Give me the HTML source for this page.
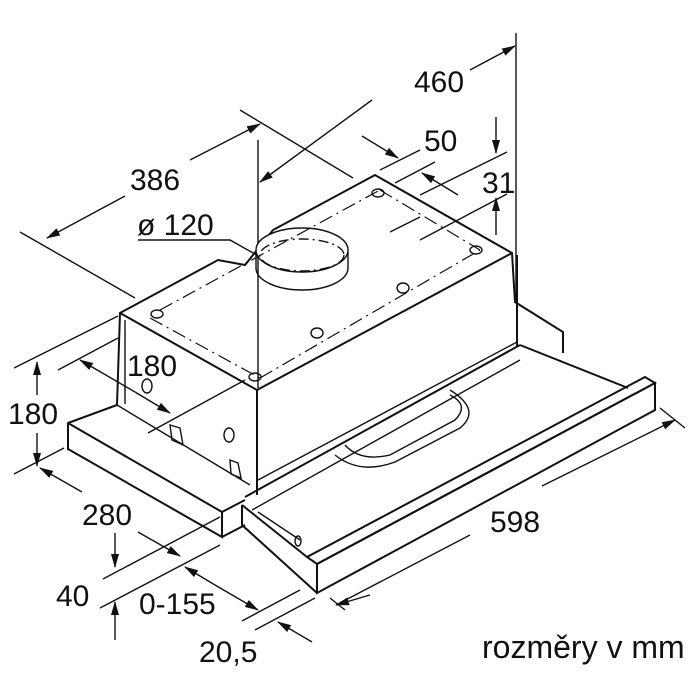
<!DOCTYPE html>
<html><head><meta charset="utf-8"><style>
html,body{margin:0;padding:0;background:#fff;}
svg{display:block;}
text{font-family:"Liberation Sans",Arial,sans-serif;fill:#111;}
</style></head><body>
<svg width="700" height="700" viewBox="0 0 700 700" xmlns="http://www.w3.org/2000/svg">
<defs>
<marker id="a" markerWidth="14" markerHeight="8" refX="13" refY="4" orient="auto" markerUnits="userSpaceOnUse">
<path d="M0,0 L14,4 L0,8 Z" fill="#111"/></marker>
</defs>
<g stroke="#111" fill="none" stroke-width="1.4">
<line x1="516" y1="33" x2="516" y2="300"/>
<line x1="258" y1="140" x2="258" y2="388"/>
<line x1="20" y1="232" x2="135" y2="298"/>
<line x1="240" y1="110" x2="353" y2="178"/>
<line x1="372" y1="100" x2="260" y2="182" marker-end="url(#a)"/>
<line x1="470" y1="70" x2="515" y2="46" marker-end="url(#a)"/>
<line x1="125" y1="196" x2="47" y2="238" marker-end="url(#a)"/>
<line x1="190" y1="160" x2="260" y2="124" marker-end="url(#a)"/>
<line x1="362" y1="136" x2="398" y2="158" marker-end="url(#a)"/>
<line x1="458" y1="195" x2="422" y2="173" marker-end="url(#a)"/>
<line x1="380" y1="170" x2="420" y2="150"/>
<line x1="395" y1="183" x2="435" y2="162"/>
<line x1="496" y1="117" x2="496" y2="153" marker-end="url(#a)"/>
<line x1="496" y1="235" x2="496" y2="198" marker-end="url(#a)"/>
<line x1="420" y1="195" x2="507" y2="152"/>
<line x1="420" y1="240" x2="507" y2="194"/>
<line x1="390" y1="232" x2="420" y2="217"/>
<polyline points="138,240 230,240 262,258"/>
<line x1="135" y1="392" x2="80" y2="360" marker-end="url(#a)"/>
<line x1="135" y1="392" x2="170" y2="413" marker-end="url(#a)"/>
<line x1="58" y1="370" x2="118" y2="338"/>
<line x1="148" y1="433" x2="245" y2="380"/>
<line x1="37" y1="395" x2="37" y2="362" marker-end="url(#a)"/>
<line x1="37" y1="433" x2="37" y2="466" marker-end="url(#a)"/>
<line x1="14" y1="368" x2="118" y2="316"/>
<line x1="14" y1="474" x2="64" y2="448"/>
<line x1="82" y1="492" x2="40" y2="468" marker-end="url(#a)"/>
<line x1="138" y1="532" x2="180" y2="556" marker-end="url(#a)"/>
<line x1="115" y1="533" x2="115" y2="567" marker-end="url(#a)"/>
<line x1="115" y1="640" x2="115" y2="602" marker-end="url(#a)"/>
<line x1="103" y1="579" x2="220" y2="517"/>
<line x1="100" y1="608" x2="220" y2="545"/>
<line x1="215" y1="585" x2="185" y2="567" marker-end="url(#a)"/>
<line x1="215" y1="585" x2="258" y2="610" marker-end="url(#a)"/>
<line x1="242" y1="621" x2="300" y2="590"/>
<line x1="255" y1="630" x2="315" y2="598"/>
<line x1="312" y1="642" x2="278" y2="622" marker-end="url(#a)"/>
<line x1="330" y1="598" x2="345" y2="610"/>
<line x1="370" y1="595" x2="336" y2="605" marker-end="url(#a)"/>
<line x1="470" y1="535" x2="336" y2="605"/>
<line x1="542" y1="486" x2="675" y2="420" marker-end="url(#a)"/>
<line x1="660" y1="408" x2="685" y2="428"/>
<g stroke-width="2">
<polyline points="68,450 68,423 117,405 120,313 218,260 245,265 273,230 375,175 512,253 515,302 563,332 563,353"/>
<line x1="120" y1="313" x2="257" y2="390"/>
<line x1="257" y1="390" x2="512" y2="253"/>
<line x1="257" y1="390" x2="257" y2="495"/>
<line x1="517" y1="255" x2="517" y2="347"/>
<polyline points="68,423 222,512 222,537 68,449"/>
<line x1="222" y1="512" x2="245" y2="500"/>
<line x1="222" y1="537" x2="245" y2="525"/>
<polygon points="307,557 645,377 655,383 317,564"/>
<polygon points="317,564 655,383 655,410 317,593"/>
<polyline points="242,505 242,525 317,593"/>
<line x1="242" y1="505" x2="307" y2="557"/>
<line x1="245" y1="497" x2="520" y2="345"/>
<line x1="520" y1="345" x2="628" y2="388"/>
</g>
<line x1="258" y1="480" x2="517" y2="342"/>
<line x1="252" y1="510" x2="520" y2="360"/>
<line x1="258" y1="512" x2="300" y2="540"/>
<line x1="125" y1="320" x2="125" y2="404"/>
<line x1="117" y1="405" x2="250" y2="485"/>
<path d="M345,445 Q360,462 390,455 L455,420 Q470,405 450,395" />
<path d="M335,455 Q360,475 395,462 L460,428 Q482,410 450,390" />
<ellipse cx="302" cy="250" rx="46" ry="22" fill="#fff"/>
<path d="M256,252 L256,268 A46,22 0 0 0 348,268 L348,252"/>
<ellipse cx="302" cy="255" rx="42" ry="16" stroke-dasharray="10,4,2,4"/>
<g stroke-dasharray="14,5,2,5" stroke-width="1.2">
<line x1="150" y1="318" x2="260" y2="378"/>
<line x1="160" y1="310" x2="380" y2="190"/>
<line x1="260" y1="378" x2="480" y2="250"/>
<line x1="380" y1="190" x2="480" y2="250"/>
</g>
<ellipse cx="378" cy="193" rx="6" ry="4"/>
<ellipse cx="476" cy="250" rx="6" ry="4"/>
<ellipse cx="157" cy="314" rx="6" ry="4"/>
<ellipse cx="255" cy="377" rx="6" ry="4"/>
<ellipse cx="403" cy="288" rx="6" ry="5"/>
<ellipse cx="317" cy="333" rx="6" ry="5"/>
<ellipse cx="147" cy="386" rx="5" ry="7"/>
<ellipse cx="229" cy="435" rx="5" ry="7"/>
<path d="M170,425 L180,428 L183,445 L172,440 Z"/>
<path d="M230,460 L238,463 L241,478 L231,474 Z"/>
<ellipse cx="298" cy="541" rx="3" ry="5"/>
</g>
<g font-size="30">
<text x="414" y="92">460</text>
<text x="424" y="151">50</text>
<text x="482" y="193">31</text>
<text x="130" y="190">386</text>
<text x="137" y="235">ø 120</text>
<text x="127" y="376">180</text>
<text x="8" y="424">180</text>
<text x="82" y="525">280</text>
<text x="490" y="532">598</text>
<text x="56" y="606">40</text>
<text x="139" y="614">0-155</text>
<text x="199" y="662">20,5</text>
</g>
<text x="482" y="658" font-size="32">rozměry v mm</text>
</svg>
</body></html>
